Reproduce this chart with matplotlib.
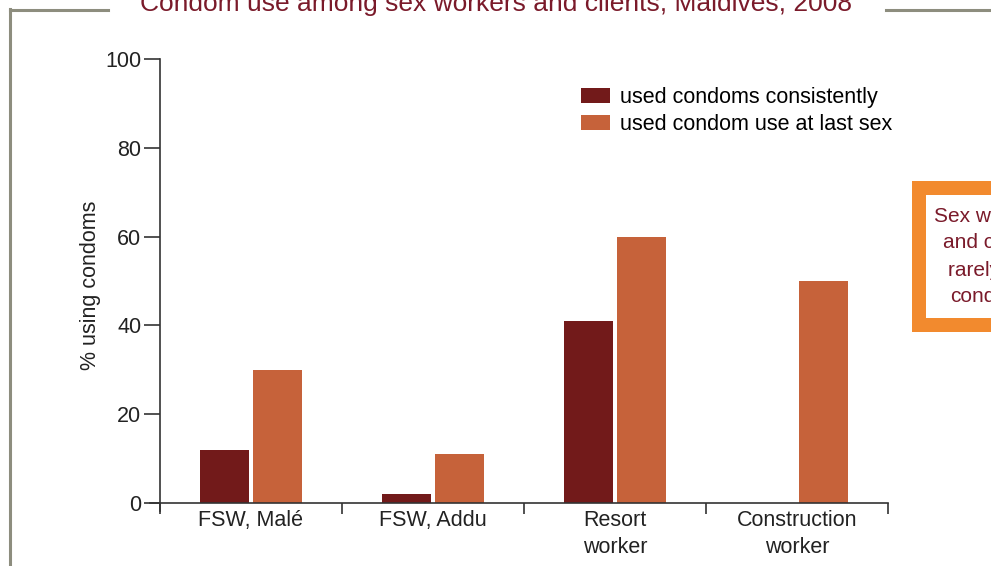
import matplotlib
matplotlib.use("Agg")
import matplotlib.pyplot as plt
from matplotlib.patches import Rectangle
from matplotlib.lines import Line2D
import numpy as np

plt.rcParams['font.family'] = ['Liberation Sans', 'DejaVu Sans']

categories = ["FSW, Malé", "FSW, Addu", "Resort\nworker", "Construction\nworker"]
consistent = [12, 2, 41, 0]
last_sex = [30, 11, 60, 50]
series_names = ["used condoms consistently", "used condom use at last sex"]
yticks = [0, 20, 40, 60, 80, 100]
title = "Condom use among sex workers and clients, Maldives, 2008"
ylabel = "% using condoms"
side_lines = ["Sex workers", "and clients", "rarely use", "condoms"]

DARK = "#721a1a"
ORANGE = "#c6623a"
MAROON = "#7a1a2a"
TXT = "#222222"
FS = 15.5

W, H = 991, 566
fig = plt.figure(figsize=(W / 100, H / 100), dpi=100)

def fx(px):
    return px / W

def fy(py):
    return 1 - py / H

y_per_unit = (503 - 59) / 100
extra_bottom = 8 / y_per_unit
ax = fig.add_axes([fx(150), fy(503 + 8), fx(888) - fx(150), fy(59) - fy(503 + 8)])
cat_px = (888 - 160) / 4
x_extra = 10 / cat_px
ax.set_xlim(-0.5 - x_extra, 3.5)
ax.set_ylim(-extra_bottom, 100)

x = np.arange(len(categories))
bw = 0.265
off = 0.146
ax.bar(x - off, consistent, bw, color=DARK, label=series_names[0])
ax.bar(x + off, last_sex, bw, color=ORANGE, label=series_names[1])

for s in ["top", "right"]:
    ax.spines[s].set_visible(False)
ax.spines["left"].set_position(("data", -0.5))
ax.spines["bottom"].set_position(("data", 0))
ax.spines["left"].set_bounds(-extra_bottom, 100)
ax.spines["bottom"].set_bounds(-0.5 - x_extra, 3.5)
for s in ["left", "bottom"]:
    ax.spines[s].set_color("#333333")
    ax.spines[s].set_linewidth(1.2)

ax.set_yticks(yticks)
ax.set_yticklabels([str(v) for v in yticks])
ax.tick_params(axis="y", length=11.5, width=1.2, color="#333333", labelsize=FS, pad=2, labelcolor=TXT)

ax.set_xticks(np.arange(-0.5, 4, 1.0))
ax.set_xticklabels([])
ax.tick_params(axis="x", which="major", direction="out", length=8, width=1.2, color="#333333")
ax.set_xticks(x, minor=True)
ax.set_xticklabels(categories, minor=True)
ax.tick_params(axis="x", which="minor", length=0, labelsize=FS, pad=5, labelcolor=TXT)
for lab in ax.get_xticklabels(minor=True):
    lab.set_linespacing(1.35)

ax.set_ylabel(ylabel, fontsize=FS, color=TXT, labelpad=3)

fig.legend(loc="upper left", bbox_to_anchor=(fx(581), fy(87)), frameon=False, fontsize=FS,
           handlelength=1.35, handleheight=0.7, handletextpad=0.45, labelspacing=0.3,
           borderaxespad=0, borderpad=0.0)

fig.text(fx(496), fy(4), title, ha="center", va="center", fontsize=19, color=MAROON)

GRAY = "#8d8d7e"
fig.add_artist(Line2D([fx(10), fx(108)], [fy(10), fy(10)], color=GRAY, lw=2.2))
fig.add_artist(Line2D([fx(886), fx(991)], [fy(10), fy(10)], color=GRAY, lw=2.2))
fig.add_artist(Line2D([fx(10), fx(10)], [fy(9), fy(566)], color=GRAY, lw=2.2))

outer = Rectangle((fx(912), fy(332)), fx(1000) - fx(912), fy(181) - fy(332),
                  transform=fig.transFigure, facecolor="#f28a2e", edgecolor="none")
inner = Rectangle((fx(926), fy(318)), fx(1000) - fx(926), fy(195) - fy(318),
                  transform=fig.transFigure, facecolor="white", edgecolor="none")
fig.add_artist(outer)
fig.add_artist(inner)
starts = [934, 943, 948, 950]
ys = [216, 243, 270, 297]
for t, sx, sy in zip(side_lines, starts, ys):
    fig.text(fx(sx), fy(sy), t, ha="left", va="center", fontsize=15, color=MAROON)

fig.savefig("out.png", dpi=100)
